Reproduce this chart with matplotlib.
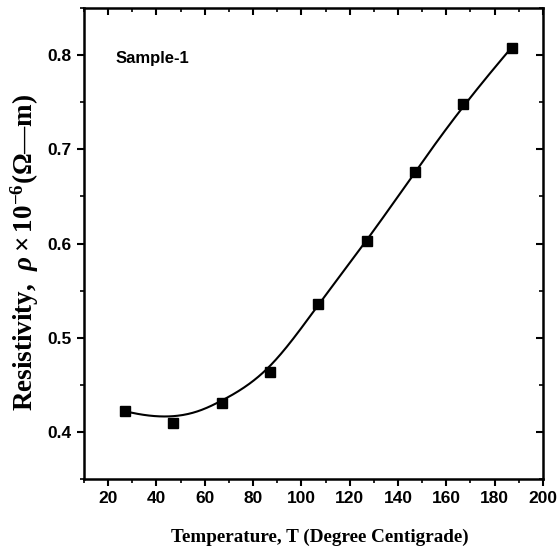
import numpy as np
import matplotlib
matplotlib.use("Agg")
import matplotlib.pyplot as plt
from matplotlib.ticker import MultipleLocator
import matplotlib.lines as mlines

plt.rcParams["mathtext.fontset"] = "custom"
plt.rcParams["mathtext.rm"] = "Liberation Serif:bold"
plt.rcParams["mathtext.bf"] = "Liberation Serif:bold"
plt.rcParams["mathtext.it"] = "Liberation Serif:bold:italic"
plt.rcParams["mathtext.sf"] = "Liberation Serif:bold"

temperature = [27, 47, 67, 87, 107, 127, 147, 167, 187]
resistivity = [0.422, 0.4095, 0.431, 0.4635, 0.5355, 0.6025, 0.6755, 0.7478, 0.808]
x_ticks = [20, 40, 60, 80, 100, 120, 140, 160, 180, 200]
y_ticks = [0.4, 0.5, 0.6, 0.7, 0.8]


def bspline(px, py, degree=3, num=400):
    """Clamped B-spline using the data points as control points (Origin style)."""
    px = np.asarray(px, float)
    py = np.asarray(py, float)
    n = len(px)
    k = degree
    inner = np.arange(1, n - k)
    knots = np.concatenate([np.zeros(k + 1), inner, np.full(k + 1, n - k)])
    ts = np.linspace(0, n - k, num)
    ts[-1] -= 1e-9

    def basis(i, p, t):
        if p == 0:
            return 1.0 if knots[i] <= t < knots[i + 1] else 0.0
        a = 0.0
        d1 = knots[i + p] - knots[i]
        if d1 > 0:
            a += (t - knots[i]) / d1 * basis(i, p - 1, t)
        d2 = knots[i + p + 1] - knots[i + 1]
        if d2 > 0:
            a += (knots[i + p + 1] - t) / d2 * basis(i + 1, p - 1, t)
        return a

    xs, ys = [], []
    for t in ts:
        b = np.array([basis(i, k, t) for i in range(n)])
        xs.append(b @ px)
        ys.append(b @ py)
    return np.array(xs), np.array(ys)


fig = plt.figure(figsize=(5.58, 5.56), dpi=100)
ax = fig.add_axes([0.1505, 0.1385, 0.8225, 0.847])

cx, cy = bspline(temperature, resistivity)
ax.plot(cx, cy, color="black", lw=1.5)
ax.plot(temperature, resistivity, "s", color="black", ms=6.5)

ax.set_xlim(10, 200)
ax.set_ylim(0.35, 0.85)
ax.set_xticks(x_ticks)
ax.set_yticks(y_ticks)
ax.xaxis.set_minor_locator(MultipleLocator(10))
ax.yaxis.set_minor_locator(MultipleLocator(0.05))

tick_font = dict(family=["Liberation Sans Narrow", "Liberation Sans"], weight="bold", size=12.5)
ax.set_xticklabels([str(v) for v in x_ticks], fontdict=tick_font)
ax.set_yticklabels([f"{v:.1f}" for v in y_ticks], fontdict=tick_font)

for s in ax.spines.values():
    s.set_linewidth(1.8)
ax.tick_params(which="major", direction="out", length=5, width=1.5, pad=4)
ax.tick_params(which="minor", direction="out", length=3, width=1.2)
ax.tick_params(which="both", top=True, right=True, labeltop=False, labelright=False)
for t in ax.xaxis.get_major_ticks() + ax.xaxis.get_minor_ticks():
    t.tick2line.set_marker(mlines.TICKDOWN)
for t in ax.yaxis.get_major_ticks() + ax.yaxis.get_minor_ticks():
    t.tick2line.set_marker(mlines.TICKLEFT)

ax.set_xlabel("Temperature, T (Degree Centigrade)", family="Liberation Serif",
              weight="bold", size=13.8)
ax.xaxis.set_label_coords(0.514, -0.105)
ax.set_ylabel("Resistivity,  $\\rho \\times 10^{-6}$(\u03a9\u2014m)",
              family="Liberation Serif", weight="bold", size=19.5)
ax.yaxis.set_label_coords(-0.094, 0.481)

ax.text(0.0697, 0.883, "Sample-1", transform=ax.transAxes,
        family=["Liberation Sans Narrow", "Liberation Sans"],
        weight="bold", size=12, va="baseline")

fig.savefig("out.png", dpi=100)
